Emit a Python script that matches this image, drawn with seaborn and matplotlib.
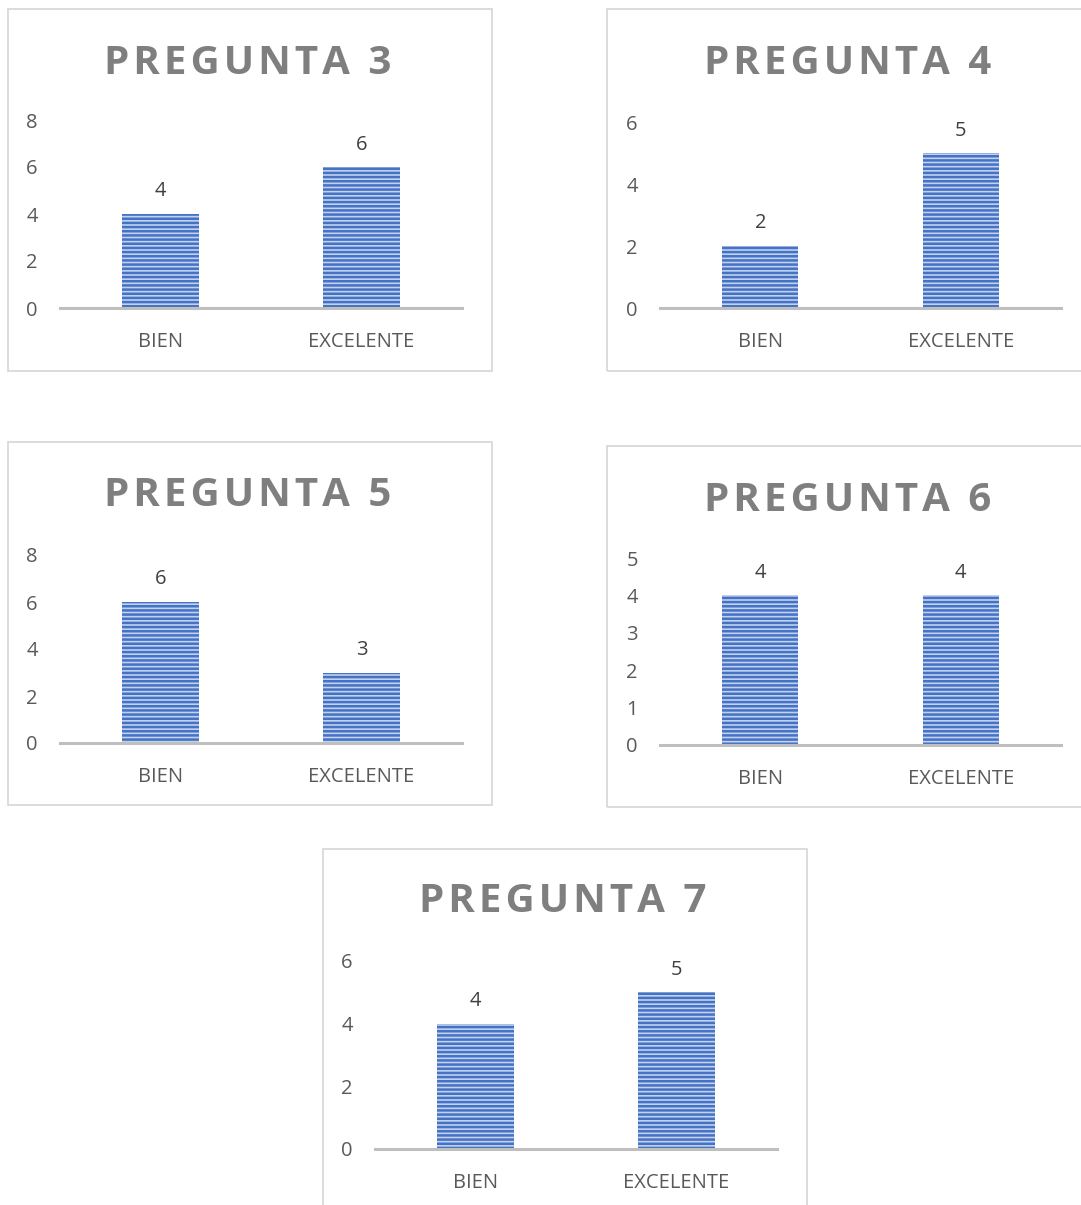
import matplotlib
matplotlib.use("Agg")
import matplotlib.pyplot as plt
import seaborn as sns
from matplotlib.patches import Rectangle

sns.set_theme(style="white")
plt.rcParams["font.family"] = ["Open Sans", "DejaVu Sans"]
plt.rcParams["hatch.linewidth"] = 1.8

# ---- data ----
categories = ["BIEN", "EXCELENTE"]
titles = ["PREGUNTA 3", "PREGUNTA 4", "PREGUNTA 5", "PREGUNTA 6", "PREGUNTA 7"]
pregunta_3 = [4, 6]
pregunta_4 = [2, 5]
pregunta_5 = [6, 3]
pregunta_6 = [4, 4]
pregunta_7 = [4, 5]
y_max = [8, 6, 8, 5, 6]
y_step = [2, 2, 2, 1, 2]

series = [pregunta_3, pregunta_4, pregunta_5, pregunta_6, pregunta_7]

W, H = 1081, 1205
fig = plt.figure(figsize=(W / 100, H / 100), dpi=100)
fig.patch.set_facecolor("white")

# layout in pixels: (frame x0, y0, x1, y1), (axes left, right, bottom, top), title centre (x, y)
frames = [(8, 9, 492, 371), (607, 9, 1092, 371), (8, 442, 492, 805),
          (607, 446, 1092, 807), (323, 849, 807, 1215)]
axes_px = [(60, 462, 308, 120), (660, 1061, 308, 122), (60, 462, 743, 555),
           (660, 1061, 745, 558), (375, 777, 1149, 961)]
title_xy = [(248, 63), (848, 63), (248, 495), (848, 500), (563, 902)]

BLUE = "#4472C4"
FACE = "#c2d1ee"
GREY_TXT = "#595959"


def fx(px):
    return px / W


def fy(py):
    return 1 - py / H


for (x0, y0, x1, y1) in frames:
    fig.patches.append(Rectangle((fx(x0), fy(y1)), fx(x1 - x0), (y1 - y0) / H,
                                 transform=fig.transFigure, fill=False,
                                 edgecolor="#D9D9D9", linewidth=1.3, zorder=0))

for i, vals in enumerate(series):
    l, r, b, t = axes_px[i]
    ax = fig.add_axes([fx(l), fy(b), (r - l) / W, (b - t) / H])
    ax.set_facecolor("none")
    sns.barplot(x=categories, y=vals, ax=ax, width=0.38, color=FACE,
                saturation=1, edgecolor=BLUE, linewidth=0, hatch="----")
    for bar in ax.patches:
        bar.set_edgecolor(BLUE)
    ax.set_xlim(-0.5, 1.5)
    ax.set_ylim(0, y_max[i])
    ax.set_yticks(range(0, y_max[i] + 1, y_step[i]))
    ax.tick_params(axis="both", length=0, labelsize=14.5, labelcolor=GREY_TXT)
    ax.tick_params(axis="y", pad=16)
    ax.tick_params(axis="x", pad=17.5)
    for side in ["top", "right", "left"]:
        ax.spines[side].set_visible(False)
    ax.spines["bottom"].set_color("#BFBFBF")
    ax.spines["bottom"].set_linewidth(2.2)
    ax.set_xlabel("")
    ax.set_ylabel("")
    ax.bar_label(ax.containers[0], padding=9, fontsize=14.5, color="#404040")
    ax.grid(False)

    tx, ty = title_xy[i]
    fig.text(fx(tx), fy(ty), "\u200a".join(titles[i]), ha="center", va="center",
             fontsize=29, fontweight="bold", color="#7F7F7F")

fig.savefig("out.png", dpi=100, facecolor="white")
